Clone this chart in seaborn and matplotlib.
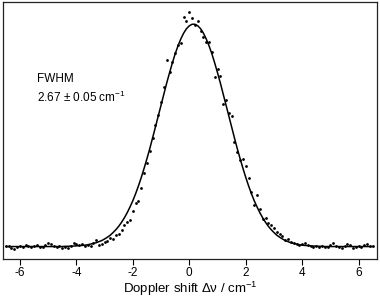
import numpy as np
import pandas as pd
import matplotlib
matplotlib.use("Agg")
import matplotlib.pyplot as plt
import seaborn as sns

# Doppler shift axis (cm^-1), one sample every 0.1 cm^-1
shift = [
    -6.5, -6.4, -6.3, -6.2, -6.1, -6.0, -5.9, -5.8, -5.7, -5.6, -5.5, -5.4, -5.3, -5.2, -5.1,
    -5.0, -4.9, -4.8, -4.7, -4.6, -4.5, -4.4, -4.3, -4.2, -4.1, -4.0, -3.9, -3.8, -3.7, -3.6,
    -3.5, -3.4, -3.3, -3.2, -3.1, -3.0, -2.9, -2.8, -2.7, -2.6, -2.5, -2.4, -2.3, -2.2, -2.1,
    -2.0, -1.9, -1.8, -1.7, -1.6, -1.5, -1.4, -1.3, -1.2, -1.1, -1.0, -0.9, -0.8, -0.7, -0.6,
    -0.5, -0.4, -0.3, -0.2, -0.1, 0.0, 0.1, 0.2, 0.3, 0.4, 0.5, 0.6, 0.7, 0.8, 0.9,
    1.0, 1.1, 1.2, 1.3, 1.4, 1.5, 1.6, 1.7, 1.8, 1.9, 2.0, 2.1, 2.2, 2.3, 2.4,
    2.5, 2.6, 2.7, 2.8, 2.9, 3.0, 3.1, 3.2, 3.3, 3.4, 3.5, 3.6, 3.7, 3.8, 3.9,
    4.0, 4.1, 4.2, 4.3, 4.4, 4.5, 4.6, 4.7, 4.8, 4.9, 5.0, 5.1, 5.2, 5.3, 5.4,
    5.5, 5.6, 5.7, 5.8, 5.9, 6.0, 6.1, 6.2, 6.3, 6.4, 6.5,
]

signal = [
    0.004, 0.002, -0.008, -0.010, -0.002, 0.004, 0.000, 0.006, 0.002, -0.004, 0.003, 0.008, -0.002, 0.000, 0.006,
    0.016, 0.012, 0.004, -0.004, 0.002, -0.006, -0.002, -0.008, 0.004, 0.014, 0.010, 0.006, 0.012, 0.002, 0.008,
    0.004, 0.014, 0.030, 0.006, 0.010, 0.020, 0.024, 0.040, 0.036, 0.050, 0.058, 0.075, 0.095, 0.112, 0.118,
    0.158, 0.195, 0.205, 0.265, 0.330, 0.375, 0.430, 0.490, 0.545, 0.590, 0.650, 0.715, 0.840, 0.785, 0.830,
    0.870, 0.905, 0.915, 1.030, 1.015, 1.055, 1.025, 0.995, 1.012, 0.970, 0.940, 0.920, 0.918, 0.875, 0.760,
    0.800, 0.766, 0.640, 0.660, 0.600, 0.585, 0.470, 0.425, 0.390, 0.395, 0.360, 0.310, 0.245, 0.185, 0.230,
    0.170, 0.125, 0.130, 0.105, 0.098, 0.085, 0.065, 0.055, 0.047, 0.030, 0.034, 0.020, 0.016, 0.012, 0.008,
    0.010, 0.016, 0.006, 0.004, 0.000, 0.004, -0.002, 0.002, 0.000, -0.004, 0.006, 0.018, 0.004, 0.000, -0.006,
    0.004, 0.012, 0.006, -0.006, -0.002, 0.002, 0.000, 0.006, 0.010, 0.004, 0.002,
]

# fitted Gaussian profile (FWHM 2.67 cm^-1)
fit = [
    0.0, 0.0, 0.0, 0.0, 0.0, 0.0, 0.0, 0.0, 0.0, 0.0, 0.0, 0.0, 0.0, 0.0, 0.0,
    0.0, 0.0, 0.0, 0.0, 0.0, 0.0, 0.001, 0.001, 0.002, 0.002, 0.003, 0.004, 0.005, 0.006, 0.008,
    0.011, 0.014, 0.017, 0.022, 0.027, 0.034, 0.042, 0.051, 0.063, 0.076, 0.091, 0.109, 0.129, 0.152, 0.178,
    0.206, 0.238, 0.273, 0.311, 0.352, 0.395, 0.440, 0.488, 0.537, 0.587, 0.637, 0.686, 0.735, 0.781, 0.825,
    0.866, 0.902, 0.933, 0.959, 0.979, 0.992, 0.999, 0.999, 0.992, 0.979, 0.959, 0.933, 0.902, 0.866, 0.825,
    0.781, 0.735, 0.686, 0.637, 0.587, 0.537, 0.488, 0.440, 0.395, 0.352, 0.311, 0.273, 0.238, 0.206, 0.178,
    0.152, 0.129, 0.109, 0.091, 0.076, 0.063, 0.051, 0.042, 0.034, 0.027, 0.022, 0.017, 0.014, 0.011, 0.008,
    0.006, 0.005, 0.004, 0.003, 0.002, 0.002, 0.001, 0.001, 0.0, 0.0, 0.0, 0.0, 0.0, 0.0, 0.0,
    0.0, 0.0, 0.0, 0.0, 0.0, 0.0, 0.0, 0.0, 0.0, 0.0, 0.0,
]

xticks = [-6, -4, -2, 0, 2, 4, 6]

df = pd.DataFrame({"shift": shift, "signal": signal, "fit": fit})

sns.set_theme(style="ticks")
plt.rcParams["font.family"] = ["Liberation Sans", "DejaVu Sans"]
plt.rcParams["mathtext.fontset"] = "custom"
plt.rcParams["mathtext.rm"] = "Liberation Sans"
plt.rcParams["text.color"] = "black"
plt.rcParams["axes.labelcolor"] = "black"

fig = plt.figure(figsize=(3.8, 2.99), dpi=100)
ax = fig.add_axes([3 / 380, 1 - 259 / 299, 374 / 380, 257 / 299])

sns.lineplot(data=df, x="shift", y="fit", ax=ax, color="black", linewidth=1.1,
             estimator=None, sort=True)
sns.scatterplot(data=df, x="shift", y="signal", ax=ax, color="black", s=4,
                linewidth=0, marker="o")

ax.set_xlim(-6.6, 6.65)
ax.set_ylim(-0.056, 1.099)
ax.set_xticks(xticks)
ax.set_xticklabels([str(t) for t in xticks], fontsize=8.5)
ax.set_yticks([])
ax.set_ylabel("")
ax.set_xlabel("Doppler shift Δν / cm$^{-1}$", fontsize=9.5, labelpad=0)
ax.tick_params(axis="x", direction="out", length=4, width=0.8, pad=2,
               colors="black", labelcolor="black")

for sp in ax.spines.values():
    sp.set_visible(True)
    sp.set_color("#222222")
    sp.set_linewidth(0.9)

ax.text(-5.4, 0.755, "FWHM", fontsize=8.5, ha="left", va="center", color="black")
ax.text(-5.4, 0.67, "2.67 ± 0.05 cm$^{-1}$", fontsize=8.5, ha="left", va="center", color="black")

fig.savefig("out.png", dpi=100)
